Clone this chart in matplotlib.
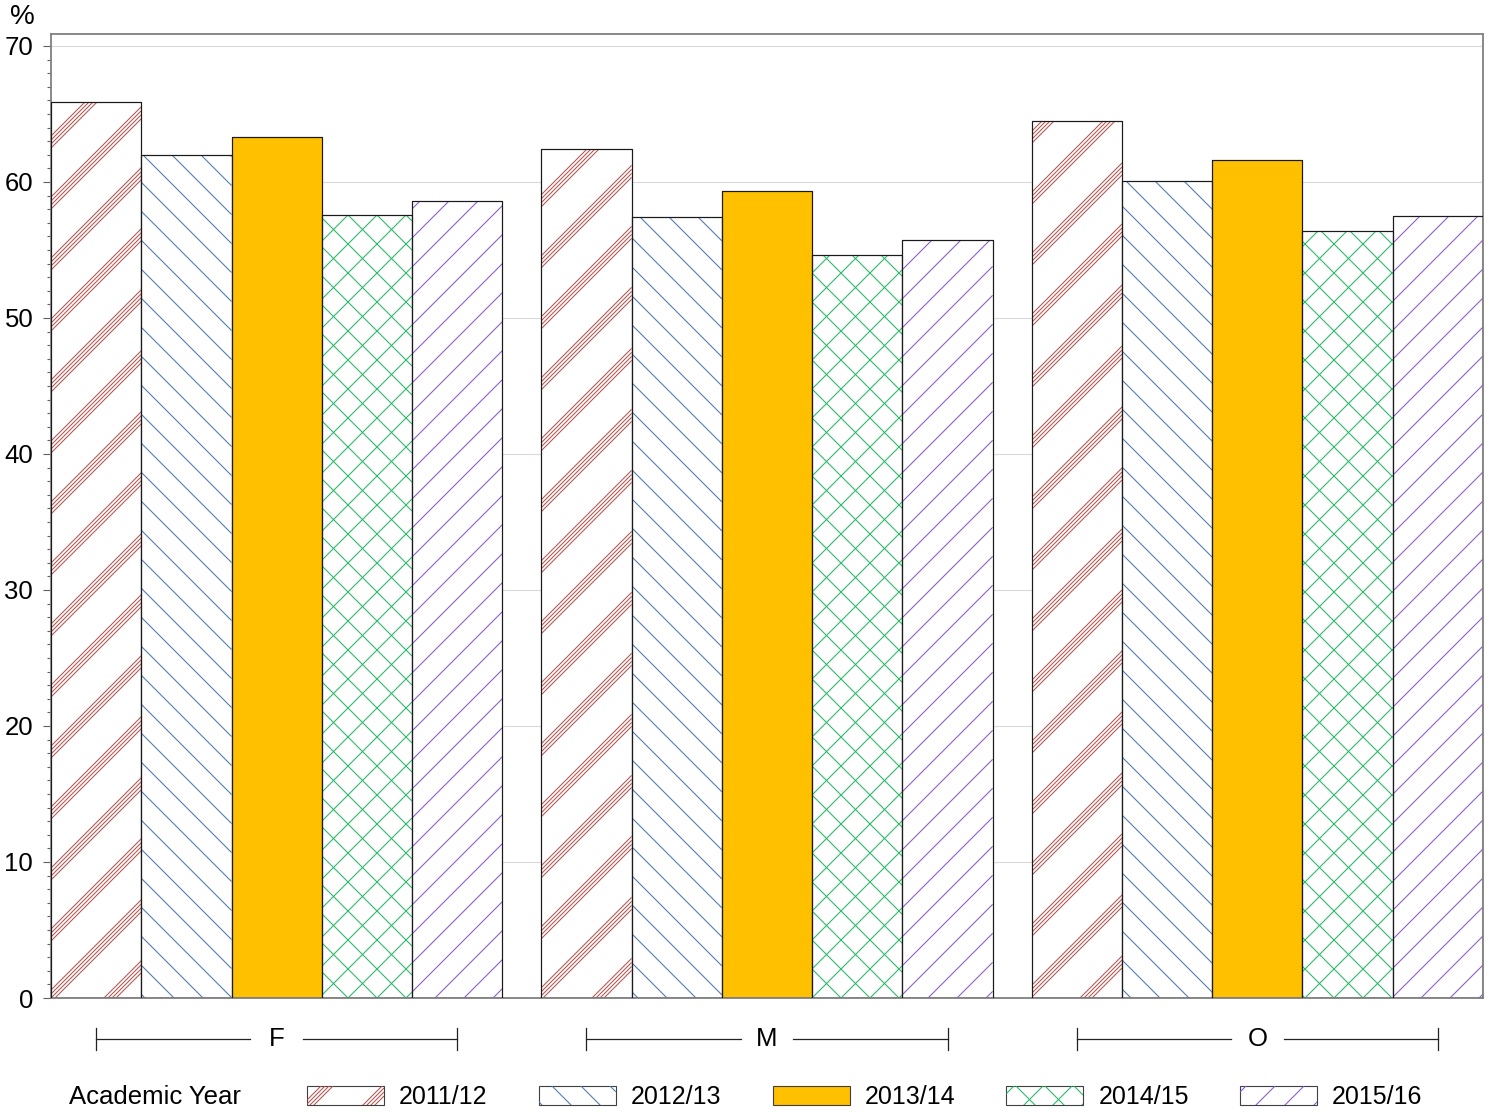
import numpy as np
import matplotlib
matplotlib.use('Agg')
import matplotlib.pyplot as plt
from matplotlib.collections import LineCollection
from matplotlib.transforms import IdentityTransform, blended_transform_factory

# ---------------- data ----------------
categories = ['F', 'M', 'O']
years = ['2011/12', '2012/13', '2013/14', '2014/15', '2015/16']
v_2011_12 = [65.9, 62.4, 64.5]
v_2012_13 = [62.0, 57.4, 60.1]
v_2013_14 = [63.3, 59.3, 61.6]
v_2014_15 = [57.6, 54.6, 56.4]
v_2015_16 = [58.6, 55.7, 57.5]
y_ticks = [0, 10, 20, 30, 40, 50, 60, 70]
y_unit = '%'
legend_title = 'Academic Year'

series = [v_2011_12, v_2012_13, v_2013_14, v_2014_15, v_2015_16]

# ---------------- styles ----------------
plt.rcParams['font.family'] = ['Liberation Sans', 'DejaVu Sans']
# (face colour, hatch spec list: (direction, colour, period px, offsets px))
styles = [
    ('white', [(1, '#B5524E', 61, (0, 4, 8, 12))]),
    ('white', [(-1, '#4A77B4', 29, (0,))]),
    ('#FFC000', []),
    ('white', [(1, '#22B860', 29, (0,)), (-1, '#22B860', 29, (0,))]),
    ('white', [(1, '#8A55C9', 29, (0,))]),
]

W, H = 1492, 1114
fig = plt.figure(figsize=(W / 100, H / 100), dpi=100)
ax = fig.add_axes([51 / W, (H - 998) / H, (1483 - 51) / W, (998 - 34) / H])

n = len(series)
group_gap = 0.433
group_starts = np.arange(len(categories)) * (n + group_gap)

bar_sets = []
for i, vals in enumerate(series):
    x = group_starts + i + 0.5
    face, _ = styles[i]
    bars = ax.bar(x, vals, width=1.0, color=face, edgecolor='#1a1a1a',
                  linewidth=0.8, zorder=2, label=years[i])
    bar_sets.append(bars)
    # outline on top of the hatching
    ax.bar(x, vals, width=1.0, fill=False, edgecolor='#1a1a1a',
           linewidth=0.8, zorder=3)

ax.set_xlim(0, len(categories) * n + (len(categories) - 1) * group_gap)
ax.set_ylim(0, 70.88)
ax.set_yticks(y_ticks)
ax.set_yticks(np.arange(0, 71, 1), minor=True)
ax.set_xticks([])
ax.tick_params(axis='y', which='major', length=5.8, width=0.8, color='#606060',
               labelsize=18.5, pad=7)
ax.tick_params(axis='y', which='minor', length=3, width=0.8, color='#606060')
ax.yaxis.grid(True, which='major', color='#d9d9d9', linewidth=0.8)
ax.set_axisbelow(True)
for s in ax.spines.values():
    s.set_color('#808080')
    s.set_linewidth(1.3)

fig.text(10 / W, 1 - 17 / H, y_unit, fontsize=20, ha='left', va='center')

# group brackets
tr = blended_transform_factory(ax.transData, ax.transAxes)
yb = -(1039 - 998) / (998 - 34)
tick_h = 11 / (998 - 34)
gap = 0.29
for g, cat in enumerate(categories):
    x0 = group_starts[g] + 0.5
    x1 = group_starts[g] + n - 0.5
    xc = (x0 + x1) / 2
    kw = dict(transform=tr, color='#222222', linewidth=0.9, clip_on=False)
    ax.plot([x0, xc - gap], [yb, yb], **kw)
    ax.plot([xc + gap, x1], [yb, yb], **kw)
    ax.plot([x0, x0], [yb - tick_h, yb + tick_h], **kw)
    ax.plot([x1, x1], [yb - tick_h, yb + tick_h], **kw)
    ax.text(xc, yb, cat, transform=tr, ha='center', va='center', fontsize=18.5)

# legend
ly = (H - 1097) / H
fig.text(69 / W, ly, legend_title, fontsize=18.5, ha='left', va='center')
leg = fig.legend(handles=[b for b in bar_sets], labels=years,
                 loc='center left', bbox_to_anchor=(307 / W, ly), ncol=5,
                 frameon=False, fontsize=18, handlelength=3.08,
                 handleheight=0.8, handletextpad=0.6, columnspacing=2.05,
                 borderpad=0, borderaxespad=0)
for h in leg.legend_handles:
    h.set_edgecolor('#404040')

fig.canvas.draw()
renderer = fig.canvas.get_renderer()


def hatch_lines(patch, direction, period, offsets):
    bb = patch.get_window_extent(renderer)
    segs = []
    if direction > 0:
        cmin, cmax = bb.y0 - bb.x1, bb.y1 - bb.x0
    else:
        cmin, cmax = bb.y0 + bb.x0, bb.y1 + bb.x1
    for k in range(int(np.floor(cmin / period)) - 1, int(np.ceil(cmax / period)) + 1):
        for o in offsets:
            c = k * period + o
            if direction > 0:
                segs.append([(bb.x0, bb.x0 + c), (bb.x1, bb.x1 + c)])
            else:
                segs.append([(bb.x0, -bb.x0 + c), (bb.x1, -bb.x1 + c)])
    return segs


for i, bars in enumerate(bar_sets):
    _, specs = styles[i]
    for patch in bars.patches:
        for d, col, per, offs in specs:
            lc = LineCollection(hatch_lines(patch, d, per, offs), colors=col,
                                linewidths=0.75, transform=IdentityTransform(),
                                zorder=2.5)
            ax.add_collection(lc, autolim=False)
            lc.set_clip_path(patch)
    hpatch = leg.legend_handles[i]
    for d, col, per, offs in specs:
        lc = LineCollection(hatch_lines(hpatch, d, per, offs), colors=col,
                            linewidths=0.75, transform=IdentityTransform(),
                            zorder=6)
        fig.add_artist(lc)
        lc.set_clip_path(hpatch)

fig.savefig('out.png', dpi=100)
